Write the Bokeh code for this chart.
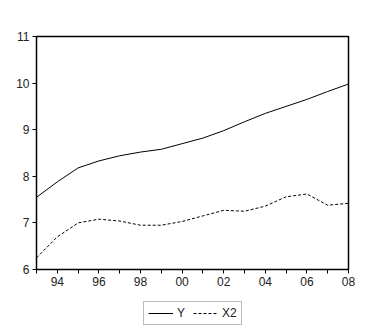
from bokeh.plotting import figure
from bokeh.models import Legend, LegendItem, FixedTicker, Range1d
from bokeh.layouts import column
from bokeh.embed import file_html
from bokeh.resources import INLINE

years = list(range(1993, 2009))
y_vals = [7.55, 7.88, 8.18, 8.33, 8.44, 8.52, 8.58, 8.70, 8.82, 8.98, 9.17, 9.35, 9.50, 9.65, 9.82, 9.98]
x2_vals = [6.25, 6.70, 7.00, 7.08, 7.04, 6.95, 6.95, 7.03, 7.15, 7.27, 7.25, 7.36, 7.56, 7.62, 7.38, 7.42]
x_major = [1994, 1996, 1998, 2000, 2002, 2004, 2006, 2008]
x_minor = [1993, 1995, 1997, 1999, 2001, 2003, 2005, 2007]
x_labels = ["94", "96", "98", "00", "02", "04", "06", "08"]
y_ticks = [6, 7, 8, 9, 10, 11]
series_names = ["Y", "X2"]

p = figure(width=376, height=298, output_backend="svg", toolbar_location=None,
           x_range=Range1d(1993, 2008), y_range=Range1d(6, 11),
           min_border_left=36, min_border_right=28, min_border_top=36, min_border_bottom=29)
p.grid.visible = False
p.outline_line_color = "black"
p.outline_line_width = 1.5
p.background_fill_color = "white"
p.border_fill_color = "white"

p.line(years, y_vals, line_color="black", line_width=1)
p.line(years, x2_vals, line_color="black", line_width=1, line_dash="3 2")

p.xaxis.ticker = FixedTicker(ticks=x_major, minor_ticks=x_minor)
p.xaxis.major_label_overrides = {yr: lab for yr, lab in zip(x_major, x_labels)}
p.yaxis.ticker = FixedTicker(ticks=y_ticks)

for ax in (p.xaxis[0], p.yaxis[0]):
    ax.axis_line_color = "black"
    ax.major_tick_line_color = "black"
    ax.minor_tick_line_color = "black"
    ax.major_tick_in = 0
    ax.major_tick_out = 4
    ax.minor_tick_in = 0
    ax.minor_tick_out = 4
    ax.major_label_text_font = "Liberation Sans"
    ax.major_label_text_font_size = "12px"
    ax.major_label_text_color = "#222222"
    ax.major_label_standoff = 3
p.yaxis.minor_tick_line_color = None

# Legend strip: same series, drawn outside its visible range so only the legend shows
lg = figure(width=376, height=38, output_backend="svg", toolbar_location=None,
            x_range=Range1d(1993, 2008), y_range=Range1d(100, 101),
            min_border_left=0, min_border_right=0, min_border_top=0, min_border_bottom=0)
lg.axis.visible = False
lg.grid.visible = False
lg.outline_line_color = None
lg.border_fill_color = "white"
lr1 = lg.line(years, y_vals, line_color="black", line_width=1)
lr2 = lg.line(years, x2_vals, line_color="black", line_width=1, line_dash="3 2")

legend = Legend(items=[LegendItem(label=series_names[0], renderers=[lr1]),
                       LegendItem(label=series_names[1], renderers=[lr2])],
                orientation="horizontal", location=(107, 11),
                label_text_font="Liberation Sans", label_text_font_size="12px",
                label_text_color="#222222",
                glyph_width=25, glyph_height=12, label_height=12, label_width=8,
                spacing=8, padding=4, label_standoff=4, margin=0,
                border_line_color="#777777", border_line_width=1,
                background_fill_color="white")
lg.add_layout(legend, "center")

layout = column(p, lg, spacing=0)
open("out.html", "w").write(file_html(layout, INLINE))
